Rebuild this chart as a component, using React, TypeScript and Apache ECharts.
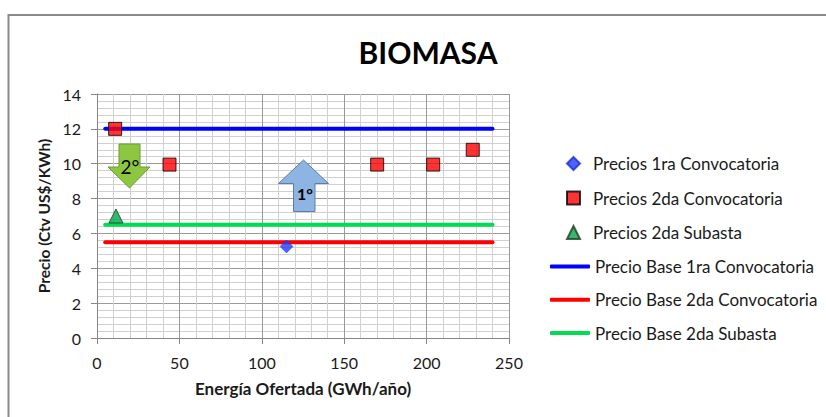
import React, { useEffect, useRef } from "react";
import * as echarts from "echarts";

// Offers (GWh/año, Ctv US$/KWh)
const precios1raConvocatoria: [number, number][] = [[115, 5.25]];
const precios2daConvocatoria: [number, number][] = [
  [11, 12.0],
  [44, 9.95],
  [170, 9.95],
  [204, 9.95],
  [228, 10.8],
];
const precios2daSubasta: [number, number][] = [[11.5, 7.0]];

// Base prices drawn as horizontal reference lines
const baseLineX: [number, number] = [5, 240];
const precioBase1raConvocatoria = 12;
const precioBase2daConvocatoria = 5.5;
const precioBase2daSubasta = 6.5;

const pointNames = [
  "Precios 1ra Convocatoria",
  "Precios 2da Convocatoria",
  "Precios 2da Subasta",
];
const baseNames = [
  "Precio Base 1ra Convocatoria",
  "Precio Base 2da Convocatoria",
  "Precio Base 2da Subasta",
];

const FONT = "Lato, 'Open Sans', sans-serif";
const TEXT = "#1a1a1a";

export default function App() {
  const ref = useRef<HTMLDivElement>(null);

  useEffect(() => {
    if (!ref.current) return;
    const chart = echarts.init(ref.current, undefined, { renderer: "svg" });

    const hLine = (y: number) => baseLineX.map((x) => [x, y]);

    chart.setOption({
      animation: false,
      backgroundColor: "#ffffff",
      textStyle: { fontFamily: FONT },
      title: {
        text: "BIOMASA",
        left: 423,
        top: 32,
        textAlign: "center",
        textStyle: { fontFamily: FONT, fontSize: 30, fontWeight: "bold", color: "#000" },
      },
      grid: { left: 97, top: 94, right: 317, bottom: 79 },
      xAxis: {
        type: "value",
        min: 0,
        max: 250,
        interval: 50,
        name: "Energía Ofertada (GWh/año)",
        nameLocation: "middle",
        nameGap: 42,
        nameTextStyle: { fontFamily: FONT, fontSize: 17, fontWeight: "bold", color: TEXT },
        axisLine: { show: true, onZero: false, lineStyle: { color: "#868686", width: 1 } },
        axisTick: { show: true, length: 6, lineStyle: { color: "#868686" } },
        axisLabel: { margin: 16, fontFamily: FONT, fontSize: 16, color: TEXT },
        splitLine: { show: true, lineStyle: { color: "#9a9a9a", width: 1 } },
        minorTick: { show: false, splitNumber: 5 },
        minorSplitLine: { show: true, lineStyle: { color: "#d0d0d0", width: 1 } },
      },
      yAxis: {
        type: "value",
        min: 0,
        max: 14,
        interval: 2,
        name: "Precio (Ctv US$/KWh)",
        nameLocation: "middle",
        nameGap: 45,
        nameTextStyle: { fontFamily: FONT, fontSize: 15.5, fontWeight: "bold", color: TEXT },
        axisLine: { show: true, onZero: false, lineStyle: { color: "#868686", width: 1 } },
        axisTick: { show: true, length: 6, lineStyle: { color: "#868686" } },
        axisLabel: { margin: 16, fontFamily: FONT, fontSize: 16, color: TEXT },
        splitLine: { show: true, lineStyle: { color: "#9a9a9a", width: 1 } },
        minorTick: { show: false, splitNumber: 5 },
        minorSplitLine: { show: true, lineStyle: { color: "#d0d0d0", width: 1 } },
      },
      legend: [
        {
          // marker legend
          orient: "vertical",
          left: 566,
          top: 155,
          padding: 0,
          itemWidth: 13,
          itemHeight: 13,
          itemGap: 17.5,
          data: pointNames,
          textStyle: {
            fontFamily: FONT,
            fontSize: 17,
            color: TEXT,
            padding: [0, 0, 0, 8],
          },
        },
        {
          // base price legend
          orient: "vertical",
          left: 550,
          top: 258,
          padding: 0,
          itemWidth: 40,
          itemHeight: 4,
          itemGap: 16.3,
          icon: "roundRect",
          data: baseNames,
          textStyle: { fontFamily: FONT, fontSize: 17, color: TEXT },
        },
      ],
      series: [
        {
          name: pointNames[0],
          type: "scatter",
          data: precios1raConvocatoria,
          symbol: "diamond",
          symbolSize: 13,
          z: 5,
          itemStyle: { color: "#1f3cff", borderColor: "#1a2fd0", borderWidth: 0.5 },
        },
        {
          name: pointNames[1],
          type: "scatter",
          data: precios2daConvocatoria,
          symbol: "rect",
          symbolSize: 13,
          z: 5,
          itemStyle: { color: "#ff0000", borderColor: "#000", borderWidth: 1 },
        },
        {
          name: pointNames[2],
          type: "scatter",
          data: precios2daSubasta,
          symbol: "triangle",
          symbolSize: 14,
          z: 5,
          itemStyle: { color: "#00a84a", borderColor: "#1f3d20", borderWidth: 1 },
        },
        {
          name: baseNames[0],
          type: "line",
          data: hLine(precioBase1raConvocatoria),
          symbol: "none",
          z: 3,
          itemStyle: { color: "#0000ff" },
          lineStyle: { color: "#0000ff", width: 4, cap: "round" },
        },
        {
          name: baseNames[1],
          type: "line",
          data: hLine(precioBase2daConvocatoria),
          symbol: "none",
          z: 3,
          itemStyle: { color: "#ff0000" },
          lineStyle: { color: "#ff0000", width: 4, cap: "round" },
        },
        {
          name: baseNames[2],
          type: "line",
          data: hLine(precioBase2daSubasta),
          symbol: "none",
          z: 3,
          itemStyle: { color: "#00dd55" },
          lineStyle: { color: "#00dd55", width: 4, cap: "round" },
        },
      ],
      graphic: [
        // outer chart frame
        {
          type: "rect",
          shape: { x: 8.5, y: 15, width: 900, height: 500 },
          style: { fill: "none", stroke: "#8a8a8a", lineWidth: 2 },
          silent: true,
        },
        // second round: downward arrow
        {
          type: "polygon",
          shape: {
            points: [
              [119, 144], [140, 144], [140, 167], [150, 167],
              [129.5, 188], [108, 167], [119, 167],
            ],
          },
          style: { fill: "#8dc63f", stroke: "#6f9a35", lineWidth: 1 },
          z: 10,
        },
        {
          type: "text",
          x: 130,
          y: 166,
          style: {
            text: "2°",
            fontFamily: FONT,
            fontSize: 19,
            fill: "#000",
            align: "center",
            verticalAlign: "middle",
          },
          z: 11,
        },
        // first round: upward arrow
        {
          type: "polygon",
          shape: {
            points: [
              [303.5, 160], [328.5, 183.5], [315, 183.5], [315, 211.5],
              [293.5, 211.5], [293.5, 183.5], [278.5, 183.5],
            ],
          },
          style: { fill: "#8db4e2", stroke: "#5b7ea8", lineWidth: 1 },
          z: 10,
        },
        {
          type: "text",
          x: 305,
          y: 193,
          style: {
            text: "1°",
            fontFamily: FONT,
            fontSize: 16,
            fontWeight: "bold",
            fill: "#000",
            align: "center",
            verticalAlign: "middle",
          },
          z: 11,
        },
      ],
    });

    return () => chart.dispose();
  }, []);

  return (
    <div
      ref={ref}
      style={{ position: "fixed", left: 0, top: 0, width: 826, height: 417 }}
    />
  );
}
